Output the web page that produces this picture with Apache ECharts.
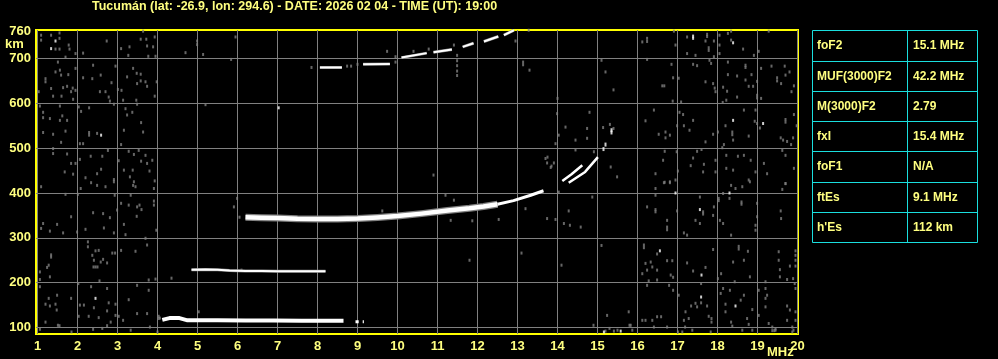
<!DOCTYPE html>
<html><head><meta charset="utf-8">
<script src="https://cdn.jsdelivr.net/npm/echarts@6/dist/echarts.min.js"></script>
<style>html,body{margin:0;padding:0;background:#000;overflow:hidden}#c{width:998px;height:359px;}</style>
</head><body><div id="c"></div>
<script>
const titleText = 'Tucumán (lat: -26.9, lon: 294.6) - DATE: 2026 02 04 - TIME (UT): 19:00';
const freqTicks = [1,2,3,4,5,6,7,8,9,10,11,12,13,14,15,16,17,18,19,20];
const heightTicks = [100,200,300,400,500,600,700];
const heightLabels = [100,200,300,400,500,600,700,760];
const paramNames = ['foF2','MUF(3000)F2','M(3000)F2','fxI','foF1','ftEs',"h'Es"];
const paramValues = ['15.1 MHz','42.2 MHz','2.79','15.4 MHz','N/A','9.1 MHz','112 km'];

// echo traces (frequency MHz, virtual height km)
const traceEs = [[4.12,117],[4.3,121],[4.55,121],[4.75,116],[5.5,116],[6.2,115.5],[6.9,115.5],[7.6,115],[8.3,115],[8.65,115]];
const traceEsTail = [[[8.95,113],[9.03,113]],[[9.13,113],[9.16,113]]];
const traceEs2 = [[4.85,229],[5.2,229.5],[5.5,229],[5.8,227],[6.2,226],[6.6,226],[7.0,225.5],[7.5,225.5],[8.0,225.5],[8.2,225.5]];
const traceF = [[6.2,346],[6.6,345],[7.0,344],[7.5,342.5],[8.0,342],[8.5,342],[9.0,343],[9.5,345.5],[10.0,348.5],[10.6,354],[11.25,361],[11.8,366],[12.15,370],[12.5,375]];
const traceFTop = [[12.5,375],[12.9,383],[13.33,395],[13.65,405]];
const traceCuspA = [[14.12,427],[14.35,442],[14.62,462]];
const traceCuspB = [[14.28,423],[14.69,447],[15.01,480]];
const traceCuspDots = [[15.15,498],[15.2,508],[15.35,535],[15.35,540]];
const traceMulti = [
  [[8.06,680],[8.61,680]],
  [[9.14,687],[9.81,688]],
  [[10.1,702],[10.73,712]],
  [[10.9,714],[11.36,720]],
  [[11.63,726],[11.9,734]],
  [[12.16,738],[12.52,749]],
  [[12.66,752],[12.91,763]]
];

// scattered noise returns
const noiseGray = [
[1.09,752],[1.09,741],[1.34,752],[1.55,757],[1.55,745],[1.45,721],[1.55,721],[1.78,730],[1.8,721],[1.7,703],[1.95,711],[2.14,712],[2.73,739],[3.09,722],[3.3,726],[3.58,743],[3.72,743],[3.74,728],[3.89,726],[3.64,761],[3.93,748],[3.27,707],[3.77,705],[3.95,705],[1.51,692],[1.2,648],[1.2,655],[1.45,670],[1.56,674],[1.59,663],[1.34,633],[1.39,616],[1.6,616],[1.64,635],[1.77,664],[1.74,638],[1.84,626],[1.88,634],[1.95,629],[1.95,678],[1.89,609],[2.14,657],[2.39,685],[2.37,655],[2.58,663],[2.56,626],[2.7,626],[2.78,614],[2.85,646],[2.95,683],[3.01,631],[2.81,605],[2.91,598],[3.24,659],[3.39,678],[3.48,667],[3.49,644],[3.58,665],[3.58,650],[3.7,648],[3.74,638],[3.47,607],[3.93,616],[3.98,648],[3.1,629],[3.14,607],[1.03,626],[1.06,594],[1.14,580],[1.14,568],[1.31,566],[1.56,594],[1.56,562],[1.62,572],[1.74,562],[1.7,538],[1.14,535],[1.39,531],[1.59,513],[2.03,592],[2.09,582],[2.29,590],[2.29,529],[2.29,535],[2.49,533],[2.14,510],[2.06,510],[3.2,588],[3.24,574],[3.37,580],[3.59,557],[3.64,536],[3.16,540],[3.09,508],[3.49,598],[1.39,499],[1.39,488],[1.74,487],[1.84,466],[1.95,466],[1.68,447],[1.89,442],[2.06,475],[2.33,482],[2.62,482],[2.76,495],[2.59,453],[2.49,443],[2.2,434],[2.91,430],[3.03,472],[3.28,493],[3.41,486],[3.53,495],[3.7,484],[3.59,471],[3.16,451],[3.38,451],[3.31,436],[3.41,425],[3.74,466],[3.87,473],[3.8,449],[3.93,427],
[1.09,414],[2.08,410],[2.34,423],[2.49,417],[2.7,414],[2.91,425],[3.39,417],[3.45,414],[3.91,410],[1.7,397],[2.01,397],[2.93,395],[3.33,395],[3.09,377],[3.28,373],[3.49,369],[3.55,373],[3.6,363],[3.91,382],[3.91,373],[3.48,348],[2.99,362],[1.14,332],[1.09,321],[1.31,315],[1.49,330],[1.64,311],[1.84,347],[1.99,313],[2.2,319],[2.39,356],[2.64,354],[2.81,345],[2.66,322],[2.91,311],[3.16,330],[3.2,307],[3.7,299],[3.97,317],[3.74,284],[3.45,270],[3.09,272],[2.94,266],[2.87,266],[2.64,252],[2.58,246],[2.41,250],[2.37,261],[2.45,271],[2.53,272],[2.4,235],[2.45,235],[2.5,235],[2.74,244],[2.26,291],[2.26,280],[1.34,257],[1.34,262],[1.28,239],[1.24,234],[1.06,224],[1.31,213],[1.06,207],[2.02,198],[2.55,204],[2.34,191],[2.74,187],[3.49,194],[3.78,206],[3.95,208],[3.78,183],[1.06,191],[1.49,172],[1.28,165],[1.2,152],[1.45,152],[1.31,148],[1.48,139],[1.84,165],[2.06,150],[2.16,150],[2.41,144],[2.78,155],[2.95,152],[3.28,162],[2.74,137],[2.95,127],[3.03,125],[2.03,125],[2.28,125],[2.53,122],[2.83,112],[2.74,104],[2.39,96],[2.62,98],[1.51,105],[1.55,104],[1.85,90],[1.06,96],[3.49,131],[3.74,131],[3.14,116],[3.81,101],[4.03,120],[4.03,125],[1.2,112],[3.33,94],
[16.24,745],[16.24,738],[16.12,737],[16.24,698],[16.91,761],[17.24,748],[16.95,730],[17.24,711],[17.45,707],[17.74,754],[17.74,749],[17.7,739],[17.78,718],[17.78,724],[17.91,739],[18.05,752],[18.05,730],[18.05,711],[18.34,761],[18.26,756],[18.34,741],[18.64,721],[18.91,707],[19.03,716],[19.28,761],[17.91,704],[16.85,687],[17.39,687],[17.49,684],[17.8,696],[17.84,689],[18.26,692],[18.7,685],[18.7,680],[19.09,678],[19.35,683],[19.68,683],[19.8,670],[16.89,657],[17.03,656],[18.26,664],[18.49,661],[18.85,664],[18.7,652],[18.78,638],[18.89,638],[18.99,649],[19.49,657],[19.49,650],[19.59,644],[19.7,663],[19.91,639],[16.62,639],[16.67,639],[17.7,648],[17.89,644],[17.93,634],[18.14,636],[17.95,626],[18.24,627],[18.49,614],[18.99,618],[18.99,612],[19.09,611],[19.85,626],[16.88,605],[17.09,603],[18.13,602],[16.41,585],[16.2,561],[17.05,580],[17.14,575],[17.39,562],[16.99,550],[17.16,550],[17.3,540],[16.7,536],[16.53,531],[16.81,529],[16.7,523],[18.2,550],[18.37,536],[18.37,530],[18.39,518],[18.01,536],[17.89,531],[18.16,508],[18.22,607],[18.66,585],[18.93,560],[18.95,585],[18.99,555],[19.06,545],[18.78,527],[19.7,564],[19.7,558],[19.91,575],[19.98,550],[19.58,523],[19.64,518],[19.74,515],[19.84,508],[19.89,523],[17.7,514],[17.6,497],[17.49,493],[17.39,478],[17.66,464],[17.64,447],[17.95,473],[17.95,447],[18.12,501],[18.22,484],[18.22,455],[18.39,451],[18.51,482],[18.66,484],[18.83,473],[18.78,429],[18.95,447],[19.16,466],[19.24,443],[19.62,495],[19.7,484],[19.91,455],[19.7,421],[16.98,492],[16.68,493],[16.64,473],[16.45,443],[16.95,429],[16.81,425],[16.68,424],[17.01,449],[17.33,461],
[16.66,423],[16.81,423],[16.45,410],[16.45,395],[16.45,363],[16.45,358],[16.24,369],[16.99,360],[16.74,339],[16.74,324],[16.74,318],[17.16,311],[17.24,306],[17.45,339],[17.56,391],[17.64,358],[17.64,353],[17.56,332],[17.91,369],[17.89,350],[18.06,339],[18.14,332],[18.03,388],[18.03,383],[18.14,399],[18.3,388],[18.34,417],[18.45,410],[18.62,414],[18.6,380],[18.6,375],[18.81,425],[18.99,377],[18.99,347],[18.95,328],[18.95,317],[18.34,306],[19.58,360],[19.59,343],[19.7,421],[19.62,408],[16.16,284],[16.16,278],[16.49,264],[16.2,243],[16.33,246],[16.37,235],[16.49,228],[16.24,228],[16.12,220],[16.49,206],[16.28,204],[16.74,249],[16.87,249],[16.83,217],[16.89,212],[17.24,244],[17.39,226],[17.7,234],[17.89,274],[18.01,209],[18.09,220],[18.39,246],[18.53,281],[18.53,275],[18.66,250],[18.76,270],[18.81,213],[18.43,202],[19.53,269],[19.53,250],[19.56,229],[19.56,213],[19.74,207],[19.89,209],[19.81,237],[19.95,271],[19.95,261],[19.95,250],[19.95,237],[19.93,198],[19.95,187],[19.2,202],[19.2,187],[19.2,165],[19.2,146],[19.24,172],[19.03,183],[16.24,194],[16.79,194],[16.89,183],[17.03,172],[17.59,198],[17.59,155],[17.45,154],[17.34,148],[17.49,146],[17.2,135],[17.28,120],[17.74,148],[17.78,125],[17.85,120],[17.85,112],[18.08,176],[18.14,187],[18.31,183],[18.2,152],[18.2,135],[18.34,112],[18.37,103],[18.58,161],[18.66,172],[18.78,107],[18.87,140],[18.74,120],[19.03,127],[19.28,109],[19.37,101],[19.45,94],[19.74,148],[19.81,139],[19.95,135],[19.87,101],[19.74,116],[19.95,116],[19.87,90],[17.16,116],[17.19,101],[17.37,94],[16.12,116],[16.2,116],[16.37,116],[16.49,124],[16.59,124],[16.74,101],[16.41,101],[17.01,90],[17.12,90],[17.83,90],[18.62,94],[18.87,94],[19.37,93],[19.42,93],[19.45,97],[19.9,94],
[4.7,713],[4.99,739],[4.99,731],[5.14,709],[5.95,748],[5.84,698],[9.74,716],[5.2,597],[10.9,440],[13.75,480],[13.85,460],[14.0,611],[13.3,674],[14.45,518],[14.8,580],[15.4,544],[15.1,283],[14.1,239],[13.1,266],[11.2,395],[11.8,250],[15.1,696],[15.2,670],[15.4,630],[14.9,105],[15.3,98],[15.5,94],[15.8,105],[6.1,228],[4.35,210],[4.8,116],[5.03,135],[4.06,121],[4.0,90],[15.24,127],[15.78,135],[15.83,105],[15.87,94],[15.41,92],[15.2,92],[11.41,384],[11.33,339],[11.87,338],[12.53,341],[13.2,365],[13.74,343],[13.95,341],[14.16,332],[14.31,328],[14.58,324],[14.87,391],[14.28,360],[14.03,402],[9.62,360],[5.99,388],[5.91,369],[14.2,547],[14.74,544],[14.03,529],[13.99,577],[15.14,546],[15.31,553],[14.74,522],[14.91,492],[14.45,496],[13.95,510],[13.7,477],[13.74,467],[13.83,457],[13.91,467],[15.49,436],[15.33,458],[11.49,707],[11.49,695],[11.49,684],[11.49,672],[11.49,662],[10.4,716],[10.78,721],[11.41,730],[12.95,739],[13.14,692],[13.14,686],[13.28,763],[8.74,683],[8.84,683],[9.95,704],[9.95,692],[7.85,680],[9.0,687],[6.05,346]
];
const noiseWhite = [[1.45,739],[1.34,722],[2.59,529],[2.45,165],[17.39,750],[17.39,745],[18.39,735],[18.39,562],[19.14,555],[16.95,400],[17.56,363],[18.3,400],[16.56,271],[17.6,217],[17.59,168],[18.45,148],[15.58,92],[15.16,90],[7.03,590]];

const YEL = '#ffff80';
const FONT = '"Liberation Sans", Arial, sans-serif';
const chart = echarts.init(document.getElementById('c'), null, {renderer:'canvas'});

function lineSeries(data, color, width, z){
  return {type:'line', data:data, showSymbol:false, symbol:'none', silent:true, animation:false, z:z,
    lineStyle:{color:color, width:width, cap:'butt', join:'round'}};
}
const series = [
  {type:'scatter', data:noiseGray, symbol:'rect', symbolSize:[2,3], itemStyle:{color:'#808080'}, silent:true, animation:false, z:2},
  {type:'scatter', data:noiseWhite, symbol:'rect', symbolSize:[2,3], itemStyle:{color:'#ffffff'}, silent:true, animation:false, z:3},
  lineSeries(traceEs,'#ffffff',4,4),
  lineSeries(traceEs2,'#808080',3,3),
  lineSeries(traceEs2,'#ffffff',2,4),
  lineSeries(traceF,'#808080',7,3),
  lineSeries(traceF,'#ffffff',4.5,4),
  lineSeries(traceFTop,'#ffffff',3,4),
  lineSeries(traceCuspA,'#ffffff',2.5,4),
  lineSeries(traceCuspB,'#ffffff',2.5,4),
  {type:'scatter', data:traceCuspDots, symbol:'rect', symbolSize:[2,4], itemStyle:{color:'#ffffff'}, silent:true, animation:false, z:4}
];
traceEsTail.forEach(s => series.push(lineSeries(s,'#ffffff',3,4)));
traceMulti.forEach(s => { series.push(lineSeries(s,'#808080',3,3)); series.push(lineSeries(s,'#ffffff',2,4)); });

const TX0 = 812.5, TX1 = 977.5, TXM = 907.5;
const rowY = [30.5, 61.5, 91.5, 121.5, 151.5, 182.5, 212.5, 242.5];
const graphics = [];
graphics.push({type:'text', left:92, top:0, style:{text:titleText, fill:YEL, font:'bold 12.5px '+FONT}});
graphics.push({type:'text', x:5, y:44, style:{text:'km', fill:YEL, font:'bold 13px '+FONT, verticalAlign:'middle'}});
graphics.push({type:'text', x:767, y:352, style:{text:'MHz', fill:YEL, font:'bold 13px '+FONT, verticalAlign:'middle'}});
graphics.push({type:'rect', shape:{x:TX0, y:rowY[0], width:TX1-TX0, height:rowY[rowY.length-1]-rowY[0]}, style:{fill:null, stroke:'#1adede', lineWidth:1}});
graphics.push({type:'line', shape:{x1:TXM, y1:rowY[0], x2:TXM, y2:rowY[rowY.length-1]}, style:{stroke:'#1adede', lineWidth:1}});
for (let i=1;i<rowY.length-1;i++){
  graphics.push({type:'line', shape:{x1:TX0, y1:rowY[i], x2:TX1, y2:rowY[i]}, style:{stroke:'#1adede', lineWidth:1}});
}
paramNames.forEach((n,i)=>{
  const cy = (rowY[i]+rowY[i+1])/2;
  graphics.push({type:'text', x:817, y:cy, style:{text:n, fill:YEL, font:'bold 12px '+FONT, verticalAlign:'middle'}});
  graphics.push({type:'text', x:913, y:cy, style:{text:paramValues[i], fill:YEL, font:'bold 12px '+FONT, verticalAlign:'middle'}});
});

chart.setOption({
  backgroundColor:'#000000',
  animation:false,
  grid:{left:36, top:30, width:762, height:304, show:true, borderColor:'#ffff00', borderWidth:2, backgroundColor:'#000000'},
  xAxis:{type:'value', min:0.9625, max:20.0125,
    axisLine:{show:false}, axisTick:{show:false, customValues:freqTicks},
    axisLabel:{customValues:freqTicks, color:YEL, fontWeight:'bold', fontSize:13, fontFamily:FONT, margin:6},
    splitLine:{show:true, lineStyle:{color:'#808080', width:1}}},
  yAxis:{type:'value', min:85.5, max:763.57,
    axisLine:{show:false}, axisTick:{show:false, customValues:heightTicks},
    axisLabel:{customValues:heightLabels, color:YEL, fontWeight:'bold', fontSize:13, fontFamily:FONT, margin:5},
    splitLine:{show:true, lineStyle:{color:'#808080', width:1}}},
  series:series,
  graphic:graphics
});
</script></body></html>
